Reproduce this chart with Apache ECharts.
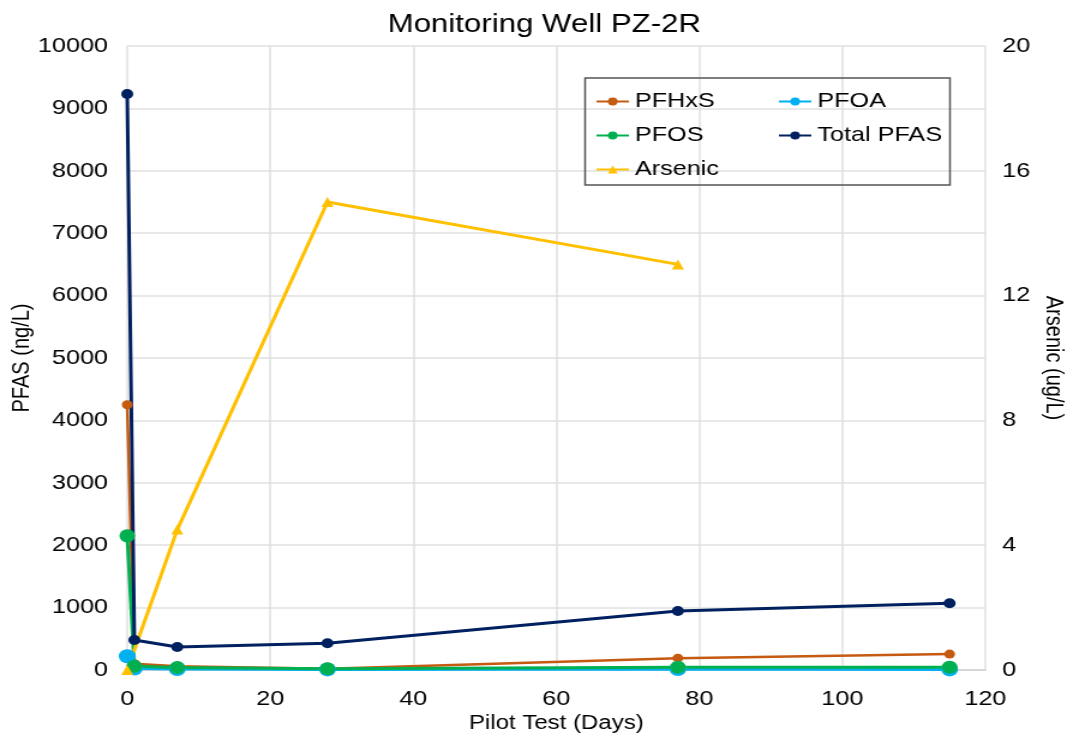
<!DOCTYPE html>
<html>
<head>
<meta charset="utf-8">
<title>Monitoring Well PZ-2R</title>
<script src="https://cdn.jsdelivr.net/npm/echarts@6/dist/echarts.min.js"></script>
<style>
  html, body { margin: 0; padding: 0; background: #fff; overflow: hidden; }
  /* The chart is laid out on a narrower canvas and widened to the page width */
  #chart { width: 889px; height: 741px; transform: scaleX(1.2002); transform-origin: 0 0; }
</style>
</head>
<body>
<div id="chart"></div>
<script>
// Sampling days of the pilot test
const pfasDays = [0, 1, 7, 28, 77, 115];
const arsenicDays = [0, 7, 28, 77];

// PFAS concentrations (ng/L)
const pfhxs = [4250, 100, 60, 20, 190, 255];
const pfoa = [220, 25, 15, 10, 15, 10];
const pfos = [2150, 60, 40, 20, 45, 45];
const totalPfas = [9230, 480, 370, 430, 945, 1070];

// Arsenic concentrations (ug/L)
const arsenic = [0, 4.5, 15, 13];

const font = 'Liberation Sans, Arial, sans-serif';
const pair = (xs, ys) => xs.map((x, i) => [x, ys[i]]);

const chart = echarts.init(document.getElementById('chart'));

function lineSeries(name, xs, ys, color, opts) {
  return Object.assign({
    name: name,
    type: 'line',
    data: pair(xs, ys),
    symbol: 'circle',
    symbolSize: 9,
    lineStyle: { color: color, width: 2.5 },
    itemStyle: { color: color },
    emphasis: { disabled: true },
    animation: false,
    z: 2
  }, opts || {});
}

const legendCommon = {
  orient: 'vertical',
  itemGap: 13,
  itemWidth: 27,
  itemHeight: 10,
  textStyle: { fontFamily: font, fontSize: 21, color: '#000' },
  selectedMode: false
};

const tickLabel = { fontFamily: font, fontSize: 21, color: '#000' };
const axisName = { fontFamily: font, fontSize: 20, color: '#000' };
const gridLine = { show: true, lineStyle: { color: '#e0e0e0', width: 1.5 } };

chart.setOption({
  backgroundColor: '#fff',
  title: {
    text: 'Monitoring Well PZ-2R',
    left: 318,
    top: 7,
    textStyle: { fontFamily: font, fontSize: 26, fontWeight: 'normal', color: '#000' }
  },
  grid: { left: 106, right: 68, top: 46, bottom: 71, outerBoundsMode: 'none', containLabel: false },
  legend: [
    Object.assign({ left: 491, top: 86, data: ['PFHxS', 'PFOS', 'Arsenic'] }, legendCommon),
    Object.assign({ left: 643, top: 86, data: ['PFOA', 'Total PFAS'] }, legendCommon)
  ],
  graphic: [{
    type: 'rect',
    shape: { x: 487.5, y: 78, width: 304, height: 107 },
    style: { fill: 'none', stroke: '#555', lineWidth: 1.5 },
    z: 10
  }],
  xAxis: {
    type: 'value',
    min: 0, max: 120, interval: 20,
    name: 'Pilot Test (Days)',
    nameLocation: 'middle',
    nameGap: 43,
    nameMoveOverlap: false,
    nameTextStyle: axisName,
    axisLine: { show: true, lineStyle: { color: '#cfcfcf', width: 1.5 } },
    axisTick: { show: false },
    axisLabel: Object.assign({ margin: 19 }, tickLabel),
    splitLine: gridLine
  },
  yAxis: [{
    type: 'value',
    min: 0, max: 10000, interval: 1000,
    name: 'PFAS (ng/L)',
    nameLocation: 'middle',
    nameGap: 78,
    nameMoveOverlap: false,
    nameTextStyle: axisName,
    axisLine: { show: false },
    axisTick: { show: false },
    axisLabel: Object.assign({ margin: 16, formatter: v => String(v) }, tickLabel),
    splitLine: gridLine
  }, {
    type: 'value',
    min: 0, max: 20, interval: 4,
    name: 'Arsenic (ug/L)',
    nameLocation: 'middle',
    nameGap: 47,
    nameRotate: -90,
    nameMoveOverlap: false,
    nameTextStyle: axisName,
    axisLine: { show: false },
    axisTick: { show: false },
    axisLabel: Object.assign({ margin: 14 }, tickLabel),
    splitLine: { show: false }
  }],
  series: [
    lineSeries('PFHxS', pfasDays, pfhxs, '#C55A11', { symbolSize: 9 }),
    lineSeries('PFOA', pfasDays, pfoa, '#00B0F0', { symbolSize: 14, lineStyle: { color: '#00B0F0', width: 3 } }),
    lineSeries('PFOS', pfasDays, pfos, '#00B050', { symbolSize: 13, lineStyle: { color: '#00B050', width: 3 } }),
    lineSeries('Total PFAS', pfasDays, totalPfas, '#002060', { symbolSize: 10, lineStyle: { color: '#002060', width: 3 } }),
    lineSeries('Arsenic', arsenicDays, arsenic, '#FFC000', {
      yAxisIndex: 1, symbol: 'triangle', symbolSize: 10,
      lineStyle: { color: '#FFC000', width: 3 }
    })
  ]
});
</script>
</body>
</html>
